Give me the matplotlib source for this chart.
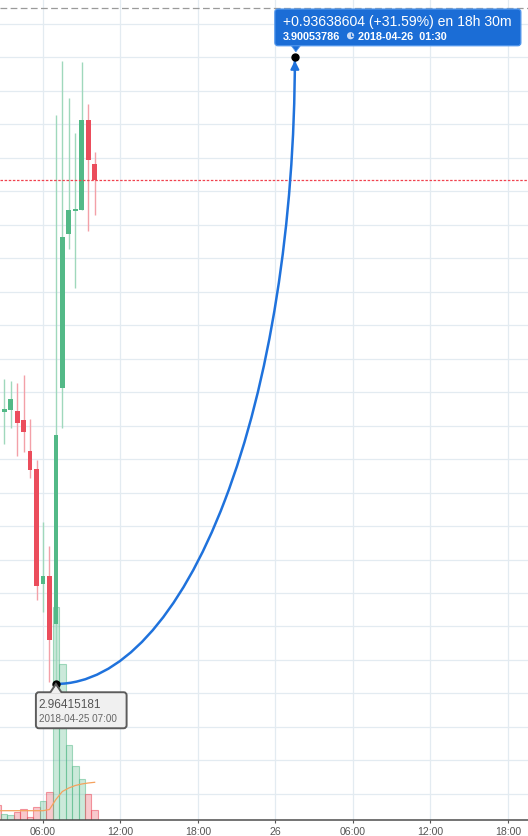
import numpy as np
import pandas as pd
import matplotlib
matplotlib.use('Agg')
import matplotlib.pyplot as plt
import matplotlib.dates as mdates
from matplotlib.ticker import MultipleLocator, FuncFormatter
from matplotlib.patches import Arc, FancyBboxPatch, Polygon, PathPatch, Circle
from matplotlib.path import Path
from matplotlib.transforms import Affine2D, ScaledTranslation

plt.rcParams['font.family'] = ['Liberation Sans', 'DejaVu Sans']

# 30 min candles
times = pd.to_datetime(['2018-04-25 02:30', '2018-04-25 03:00', '2018-04-25 03:30',
                        '2018-04-25 04:00', '2018-04-25 04:30', '2018-04-25 05:00',
                        '2018-04-25 05:30', '2018-04-25 06:00', '2018-04-25 06:30',
                        '2018-04-25 07:00', '2018-04-25 07:30', '2018-04-25 08:00',
                        '2018-04-25 08:30', '2018-04-25 09:00', '2018-04-25 09:30',
                        '2018-04-25 10:00'])
opens = [3.385, 3.3708, 3.3738, 3.3718, 3.3584, 3.3121, 3.2852, 3.1139,
         3.1254, 3.0537, 3.4062, 3.6367, 3.6706, 3.6725, 3.8065, 3.7408]
highs = [3.420, 3.4197, 3.4167, 3.4137, 3.4256, 3.3599, 3.2987, 3.2060,
         3.1702, 3.8140, 3.8946, 3.8394, 3.7871, 3.8931, 3.8304, 3.7587]
lows = [3.360, 3.3230, 3.3469, 3.3051, 3.3110, 3.2722, 3.0900, 3.0721,
        2.9671, 2.96415181, 3.3465, 3.6138, 3.5556, 3.6725, 3.6412, 3.6650]
closes = [3.372, 3.3748, 3.3898, 3.3544, 3.3409, 3.2842, 3.1109, 3.1254,
          3.0302, 3.3360, 3.6317, 3.6721, 3.6740, 3.8065, 3.7468, 3.7173]
volumes = [150, 60, 50, 77, 110, 27, 127, 190, 283, 2130, 1560, 750, 543, 410, 260, 103]
volume_ma = [93, 93, 93, 93, 93, 93, 93, 93, 105, 205, 285, 320, 345, 360, 370, 377]

# measured move
start_time = pd.Timestamp('2018-04-25 07:00')
start_price = 2.96415181
end_time = pd.Timestamp('2018-04-26 01:30')
end_price = 3.90053786
top_level = 3.9742

change_text = '+0.93638604 (+31.59%) en 18h 30m'
target_text = '3.90053786'
target_date = '2018-04-26  01:30'
start_text = '2.96415181'
start_date = '2018-04-25 07:00'

GREEN = '#53b987'
RED = '#eb4d5c'
BLUE = '#1f72dc'
BOX_BLUE = '#1b6dd6'

x = mdates.date2num(times)
o = np.array(opens)
c = np.array(closes)
up = c >= o

fig = plt.figure(figsize=(5.28, 8.37), dpi=100)
ax = fig.add_axes([0, 16 / 837, 1, 821 / 837])

# volume, scaled into the bottom of the price pane
vol_tr = Affine2D().scale(1, 1 / 8210) + ax.get_xaxis_transform()
ax.bar(x, volumes, width=0.5 / 24, bottom=0,
       color=[(0.325, 0.725, 0.529, 0.3) if u else (0.922, 0.302, 0.361, 0.3) for u in up],
       edgecolor=[(0.325, 0.725, 0.529, 0.5) if u else (0.922, 0.302, 0.361, 0.55) for u in up],
       linewidth=0.8, transform=vol_tr, zorder=1)
ax.plot(x, volume_ma, color='#f5a25d', lw=0.9, transform=vol_tr, zorder=1.5)

# candles
ax.vlines(x, lows, highs, colors=['#9fd8bc' if u else '#f3a0a8' for u in up], lw=1, zorder=2)
ax.bar(x, c - o, bottom=o, width=0.364 / 24,
       color=[GREEN if u else RED for u in up], zorder=2.5)

ax.axhline(top_level, color='#9a9a9a', lw=0.9, ls=(0, (5.4, 2.7)), zorder=3)
ax.axhline(closes[-1], color='#f0424f', lw=0.9, ls=(0, (2, 1.3)), zorder=3)

# projection arc
sx = mdates.date2num(start_time)
ex = mdates.date2num(end_time)
ax.add_patch(Arc((sx, end_price), 2 * (ex - sx), 2 * (end_price - start_price),
                 theta1=270, theta2=360, color=BLUE, lw=1.8, zorder=4))
ax.annotate('', xy=(ex, end_price), xytext=(0, -14), textcoords='offset pixels',
            arrowprops=dict(arrowstyle='-|>,head_length=0.5,head_width=0.25', color=BLUE,
                            lw=1.5, shrinkA=0, shrinkB=2.5, mutation_scale=10), zorder=4)
ax.plot([sx, ex], [start_price, end_price], 'o', ms=5, color='black', zorder=5)


def anchor(xd, yd):
    # pixel offsets around a data point
    return Affine2D() + ScaledTranslation(xd, yd, ax.transData)


# start label
tb = anchor(sx, start_price)
ax.add_patch(FancyBboxPatch((-20, -44.3), 90.7, 36, boxstyle='round,pad=0,rounding_size=3',
                            fc='#f0f0f0', ec='#5c5c5c', lw=1.4, transform=tb, zorder=6))
ax.add_patch(Polygon([(-5.5, -9.5), (0, -1), (5.5, -9.5)], closed=True, fc='#f0f0f0',
                     ec='none', transform=tb, zorder=6.5))
ax.add_patch(PathPatch(Path([(-5.5, -8.3), (0, 0), (5.5, -8.3)]), fill=False, ec='#5c5c5c',
                       lw=1.4, transform=tb, zorder=6.5))
ax.text(-17, -20.3, start_text, transform=tb, fontsize=8.5, color='#555555', va='center', zorder=7)
ax.text(-17, -34.3, start_date, transform=tb, fontsize=7.1, color='#666666', va='center', zorder=7)

# target label
ta = anchor(ex, end_price)
ax.add_patch(FancyBboxPatch((-20, 11.3), 246, 36.7, boxstyle='round,pad=0,rounding_size=3',
                            fc=BOX_BLUE, ec='#4f95ec', lw=0.9, transform=ta, zorder=6))
ax.add_patch(Polygon([(-4, 12), (1, 5.3), (6, 12)], closed=True, fc=BOX_BLUE, ec='#4f95ec',
                     lw=0.6, transform=ta, zorder=5.9))
ax.text(-12.3, 36, change_text, transform=ta, fontsize=10.1, color='white', va='center', zorder=7)
ax.text(-12.3, 21.3, target_text, transform=ta, fontsize=7.8, color='white', va='center',
        weight='bold', zorder=7)
ax.add_patch(Circle((55.7, 21.3), 3.6, fc='#c9dbf6', ec='none', transform=ta, zorder=7))
ax.add_patch(PathPatch(Path([(55.7, 24), (55.7, 21.3), (58, 21.3)]), fill=False, ec=BOX_BLUE,
                       lw=0.8, transform=ta, zorder=7.5))
ax.text(63.3, 21.3, target_date, transform=ta, fontsize=7.8, color='white', va='center',
        weight='bold', zorder=7)

# axes
ax.set_xlim(mdates.date2num(pd.Timestamp('2018-04-25 02:40:20')),
            mdates.date2num(pd.Timestamp('2018-04-26 19:33:00')))
ax.set_ylim(2.76094, 3.98723)
ax.xaxis.set_major_locator(mdates.HourLocator(byhour=[0, 6, 12, 18]))


def fmt(v, pos):
    d = mdates.num2date(v)
    return str(d.day) if d.hour == 0 else d.strftime('%H:%M')


ax.xaxis.set_major_formatter(FuncFormatter(fmt))
ax.yaxis.set_major_locator(MultipleLocator(0.05))
ax.tick_params(axis='y', left=False, labelleft=False)
ax.tick_params(axis='x', length=2.2, width=0.8, color='#555555', labelsize=7.6,
               labelcolor='#555555', pad=1.8)
ax.grid(True, color='#e3ebf1', lw=0.9)
ax.set_axisbelow(True)
for s in ['top', 'left', 'right']:
    ax.spines[s].set_visible(False)
ax.spines['bottom'].set_color('#4d4d4d')
ax.spines['bottom'].set_linewidth(1.1)

fig.savefig('out.png', dpi=100)
